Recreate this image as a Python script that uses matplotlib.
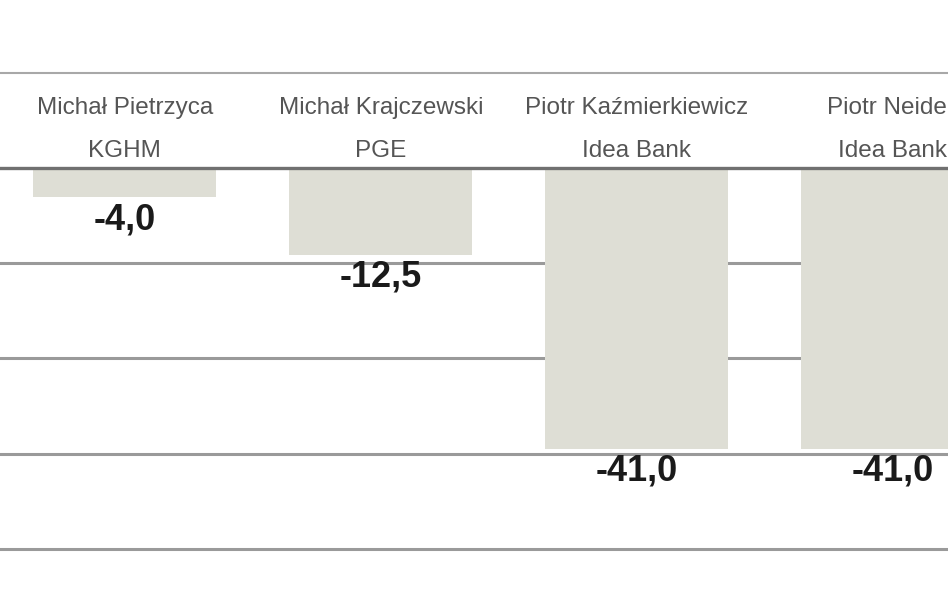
import matplotlib.pyplot as plt
import numpy as np

# analysts and their forecast change
names = ["Michał Pietrzyca", "Michał Krajczewski", "Piotr Kaźmierkiewicz", "Piotr Neidek"]
firms = ["KGHM", "PGE", "Idea Bank", "Idea Bank"]
values = [-4.0, -12.5, -41.0, -41.0]
grid_levels = [-14, -28, -42, -56]

plt.rcParams['font.family'] = ['Liberation Sans Narrow', 'Liberation Sans', 'DejaVu Sans']

fig = plt.figure(figsize=(9.48, 5.93), dpi=100)
ax = fig.add_axes([0, 0, 1, 1])

x = np.arange(len(values))
ax.set_xlim(-0.488, 3.215)
ax.set_ylim(-62.5, 24.7)

# lines
for g in grid_levels:
    ax.axhline(g, color="#9a9a9a", lw=2.2, zorder=1)
ax.axhline(14, color="#a8a8a8", lw=1.5, zorder=1)

ax.bar(x, values, width=0.715, bottom=-0.3, color="#deded5", zorder=2)
ax.axhline(0, color="#707070", lw=2.4, zorder=3)

for i in range(len(values)):
    ax.text(x[i], 8.8, names[i], ha="center", va="center", fontsize=17.5, color="#555555")
    ax.text(x[i], 2.5, firms[i], ha="center", va="center", fontsize=17.5, color="#555555")
    lab = ("%.1f" % values[i]).replace(".", ",")
    ax.text(x[i], values[i] - 3.6, lab, ha="center", va="center", fontsize=26,
            fontweight="bold", color="#1a1a1a")

ax.axis("off")
fig.savefig("out.png", dpi=100)
